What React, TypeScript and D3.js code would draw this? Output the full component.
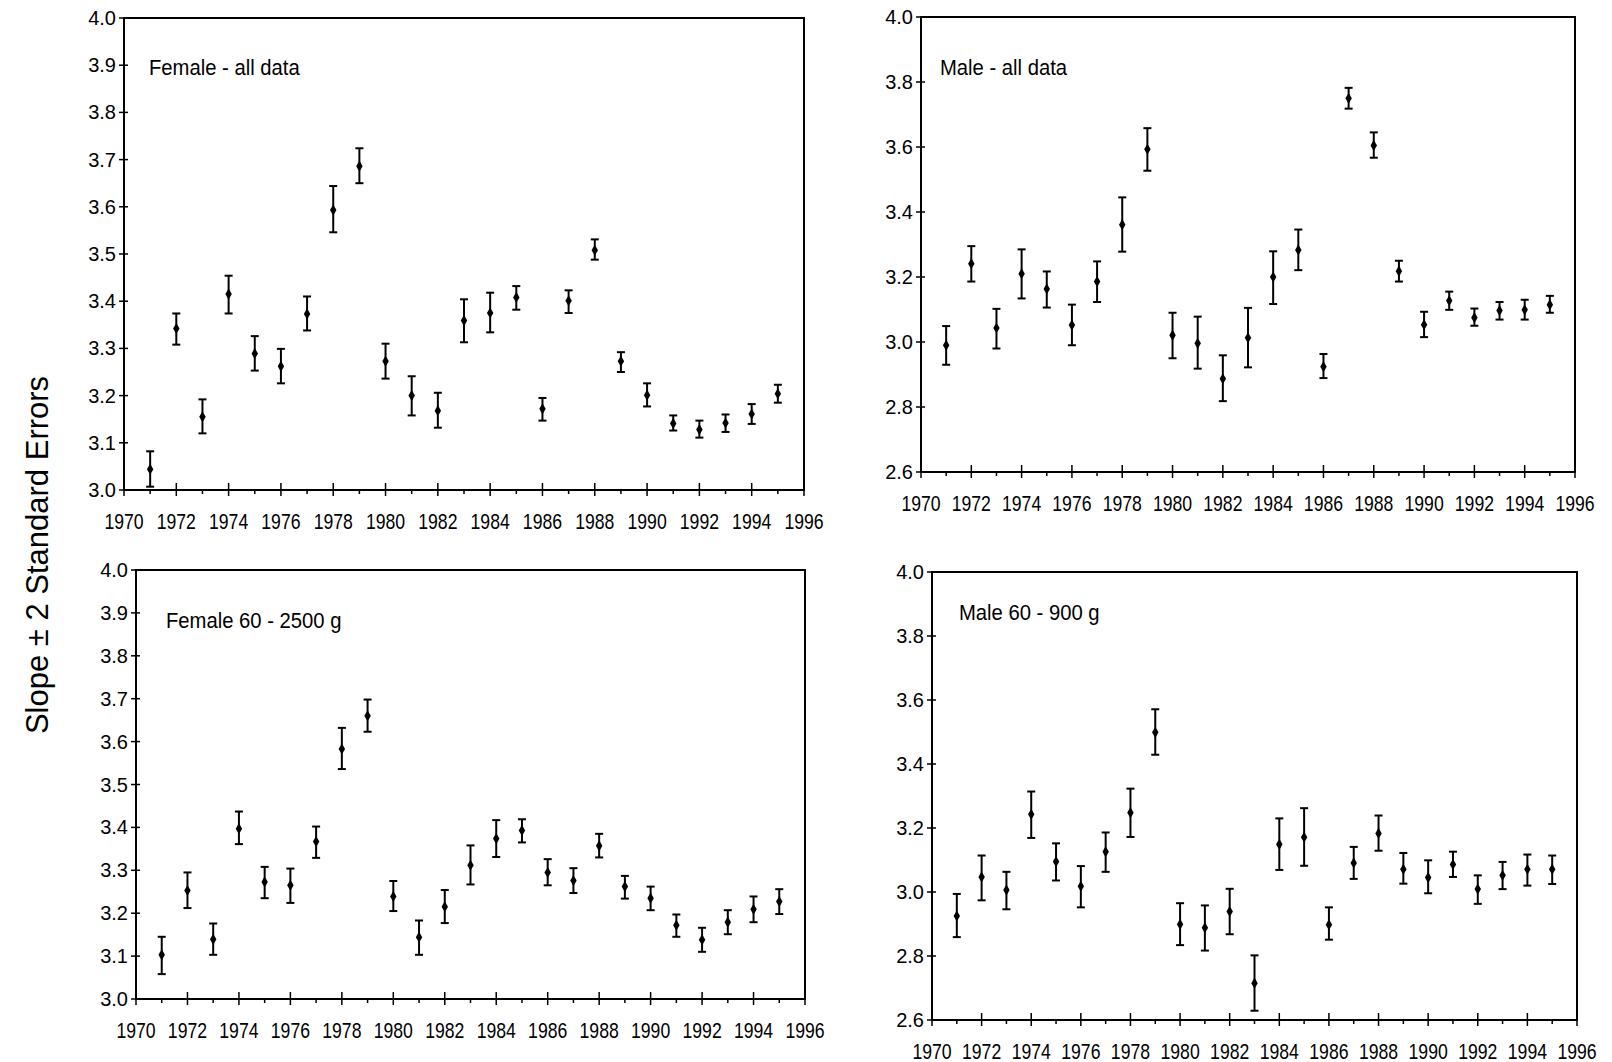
import React, { useEffect, useRef } from 'react';
import * as d3 from 'd3';

// survey years (one estimate per year)
const years = [1971, 1972, 1973, 1974, 1975, 1976, 1977, 1978, 1979, 1980, 1981, 1982, 1983,
  1984, 1985, 1986, 1987, 1988, 1989, 1990, 1991, 1992, 1993, 1994, 1995];

// Female - all data
const femaleAllSlope = [3.044, 3.342, 3.155, 3.415, 3.289, 3.262, 3.373, 3.593, 3.686, 3.273, 3.200, 3.168, 3.359,
  3.375, 3.408, 3.172, 3.401, 3.508, 3.273, 3.201, 3.141, 3.128, 3.142, 3.161, 3.204];
const femaleAllLow = [3.007, 3.308, 3.120, 3.374, 3.253, 3.226, 3.338, 3.546, 3.650, 3.236, 3.158, 3.132, 3.313,
  3.334, 3.382, 3.147, 3.375, 3.488, 3.250, 3.177, 3.126, 3.111, 3.123, 3.140, 3.185];
const femaleAllHigh = [3.082, 3.374, 3.192, 3.454, 3.326, 3.299, 3.410, 3.644, 3.724, 3.310, 3.241, 3.206, 3.404,
  3.418, 3.432, 3.195, 3.423, 3.531, 3.292, 3.226, 3.158, 3.147, 3.160, 3.182, 3.223];

// Male - all data
const maleAllSlope = [2.990, 3.241, 3.043, 3.210, 3.163, 3.052, 3.186, 3.361, 3.593, 3.021, 2.996, 2.887, 3.013,
  3.200, 3.283, 2.924, 3.750, 3.605, 3.218, 3.053, 3.127, 3.075, 3.097, 3.099, 3.115];
const maleAllLow = [2.930, 3.186, 2.980, 3.134, 3.106, 2.990, 3.123, 3.278, 3.527, 2.950, 2.918, 2.818, 2.922,
  3.117, 3.221, 2.889, 3.718, 3.567, 3.186, 3.015, 3.099, 3.050, 3.069, 3.069, 3.090];
const maleAllHigh = [3.049, 3.295, 3.102, 3.285, 3.217, 3.115, 3.248, 3.445, 3.658, 3.090, 3.078, 2.959, 3.105,
  3.279, 3.346, 2.963, 3.782, 3.645, 3.250, 3.093, 3.155, 3.103, 3.123, 3.130, 3.142];

// Female 60 - 2500 g
const femaleSubSlope = [3.103, 3.253, 3.139, 3.397, 3.273, 3.265, 3.367, 3.583, 3.660, 3.239, 3.144, 3.215, 3.312,
  3.374, 3.393, 3.295, 3.276, 3.357, 3.262, 3.235, 3.172, 3.138, 3.179, 3.209, 3.227];
const femaleSubLow = [3.058, 3.212, 3.103, 3.361, 3.235, 3.224, 3.329, 3.536, 3.623, 3.205, 3.103, 3.177, 3.267,
  3.331, 3.365, 3.265, 3.247, 3.330, 3.234, 3.207, 3.145, 3.110, 3.151, 3.179, 3.198];
const femaleSubHigh = [3.145, 3.295, 3.176, 3.437, 3.308, 3.304, 3.402, 3.632, 3.698, 3.275, 3.183, 3.254, 3.358,
  3.417, 3.419, 3.326, 3.305, 3.385, 3.287, 3.262, 3.197, 3.166, 3.207, 3.239, 3.256];

// Male 60 - 900 g
const maleSubSlope = [2.925, 3.047, 3.006, 3.243, 3.095, 3.018, 3.126, 3.248, 3.499, 2.899, 2.888, 2.939, 2.715,
  3.149, 3.171, 2.898, 3.091, 3.183, 3.071, 3.045, 3.086, 3.009, 3.052, 3.071, 3.071];
const maleSubLow = [2.859, 2.974, 2.946, 3.169, 3.036, 2.952, 3.063, 3.172, 3.429, 2.834, 2.817, 2.868, 2.629,
  3.069, 3.082, 2.851, 3.041, 3.129, 3.026, 2.996, 3.047, 2.963, 3.009, 3.020, 3.025];
const maleSubHigh = [2.994, 3.114, 3.063, 3.314, 3.152, 3.081, 3.186, 3.323, 3.571, 2.965, 2.958, 3.010, 2.802,
  3.230, 3.262, 2.952, 3.141, 3.239, 3.122, 3.099, 3.126, 3.052, 3.094, 3.117, 3.114];

// axis ticks
const yTicksFemale = [3.0, 3.1, 3.2, 3.3, 3.4, 3.5, 3.6, 3.7, 3.8, 3.9, 4.0];
const yTicksMale = [2.6, 2.8, 3.0, 3.2, 3.4, 3.6, 3.8, 4.0];
const xTickYears = [1970, 1972, 1974, 1976, 1978, 1980, 1982, 1984, 1986, 1988, 1990, 1992, 1994, 1996];

const FONT = '"Liberation Sans", Arial, Helvetica, sans-serif';

const panels = [
  { title: 'Female - all data', slope: femaleAllSlope, low: femaleAllLow, high: femaleAllHigh,
    yTicks: yTicksFemale, box: { l: 124, r: 804, t: 18, b: 490 }, titleAt: [149, 68] },
  { title: 'Male - all data', slope: maleAllSlope, low: maleAllLow, high: maleAllHigh,
    yTicks: yTicksMale, box: { l: 921, r: 1575, t: 17, b: 472 }, titleAt: [940, 68] },
  { title: 'Female 60 - 2500 g', slope: femaleSubSlope, low: femaleSubLow, high: femaleSubHigh,
    yTicks: yTicksFemale, box: { l: 136, r: 805, t: 570, b: 999 }, titleAt: [166, 621] },
  { title: 'Male 60 - 900 g', slope: maleSubSlope, low: maleSubLow, high: maleSubHigh,
    yTicks: yTicksMale, box: { l: 932, r: 1577, t: 572, b: 1020 }, titleAt: [959, 613] },
];

const App = () => {
  const ref = useRef(null);

  useEffect(() => {
    const svg = d3.select(ref.current);
    svg.selectAll('*').remove();

    panels.forEach(p => {
      const { l, r, t, b } = p.box;
      const x = d3.scaleLinear().domain([1970, 1996]).range([l, r]);
      const y = d3.scaleLinear().domain([p.yTicks[0], 4.0]).range([b, t]);
      const g = svg.append('g');

      // frame
      g.append('rect')
        .attr('x', l).attr('y', t)
        .attr('width', r - l).attr('height', b - t)
        .attr('fill', 'none').attr('stroke', '#000').attr('stroke-width', 2);

      // y ticks cross the axis
      g.selectAll('.ytick').data(p.yTicks).enter().append('line')
        .attr('x1', l - 5).attr('x2', l + 4)
        .attr('y1', d => y(d)).attr('y2', d => y(d))
        .attr('stroke', '#000').attr('stroke-width', 1.5);

      g.selectAll('.ylab').data(p.yTicks).enter().append('text')
        .attr('x', l - 8).attr('y', d => y(d))
        .attr('text-anchor', 'end').attr('dominant-baseline', 'central')
        .style('font-family', FONT).style('font-size', '20px')
        .text(d => d3.format('.1f')(d));

      // x ticks: majors every other year, minors each year
      g.selectAll('.xminor').data(d3.range(1971, 1996, 2)).enter().append('line')
        .attr('x1', d => x(d)).attr('x2', d => x(d))
        .attr('y1', b).attr('y2', b + 4)
        .attr('stroke', '#000').attr('stroke-width', 1.5);

      g.selectAll('.xmajor').data(xTickYears).enter().append('line')
        .attr('x1', d => x(d)).attr('x2', d => x(d))
        .attr('y1', b - 7).attr('y2', b + 6)
        .attr('stroke', '#000').attr('stroke-width', 1.5);

      g.selectAll('.xlab').data(xTickYears).enter().append('text')
        .attr('transform', d => `translate(${x(d)},${b + 31}) scale(0.82,1)`)
        .attr('text-anchor', 'middle').attr('dominant-baseline', 'central')
        .style('font-family', FONT).style('font-size', '21.5px')
        .text(d => d);

      // panel label
      g.append('text')
        .attr('transform', `translate(${p.titleAt[0]},${p.titleAt[1]}) scale(0.9,1)`)
        .attr('dominant-baseline', 'central')
        .style('font-family', FONT).style('font-size', '22.5px')
        .text(p.title);

      // error bars
      const bars = g.selectAll('.bar').data(years.map((yr, i) => ({
        yr, s: p.slope[i], lo: p.low[i], hi: p.high[i]
      }))).enter().append('g');

      bars.append('line')
        .attr('x1', d => x(d.yr)).attr('x2', d => x(d.yr))
        .attr('y1', d => y(d.lo)).attr('y2', d => y(d.hi))
        .attr('stroke', '#000').attr('stroke-width', 2);

      bars.append('line')
        .attr('x1', d => x(d.yr) - 4).attr('x2', d => x(d.yr) + 4)
        .attr('y1', d => y(d.hi)).attr('y2', d => y(d.hi))
        .attr('stroke', '#000').attr('stroke-width', 2);

      bars.append('line')
        .attr('x1', d => x(d.yr) - 4).attr('x2', d => x(d.yr) + 4)
        .attr('y1', d => y(d.lo)).attr('y2', d => y(d.lo))
        .attr('stroke', '#000').attr('stroke-width', 2);

      bars.append('path')
        .attr('transform', d => `translate(${x(d.yr)},${y(d.s)})`)
        .attr('d', d3.symbol(d3.symbolDiamond, 36))
        .attr('fill', '#000');
    });

    // shared y-axis title
    svg.append('text')
      .attr('transform', 'translate(37,555) rotate(-90)')
      .attr('text-anchor', 'middle').attr('dominant-baseline', 'central')
      .style('font-family', FONT).style('font-size', '31px')
      .text('Slope ± 2 Standard Errors');
  }, []);

  return (
    <svg ref={ref} width={1612} height={1062}
      style={{ position: 'absolute', left: 0, top: 0, background: '#fff' }} />
  );
};

export default App;
